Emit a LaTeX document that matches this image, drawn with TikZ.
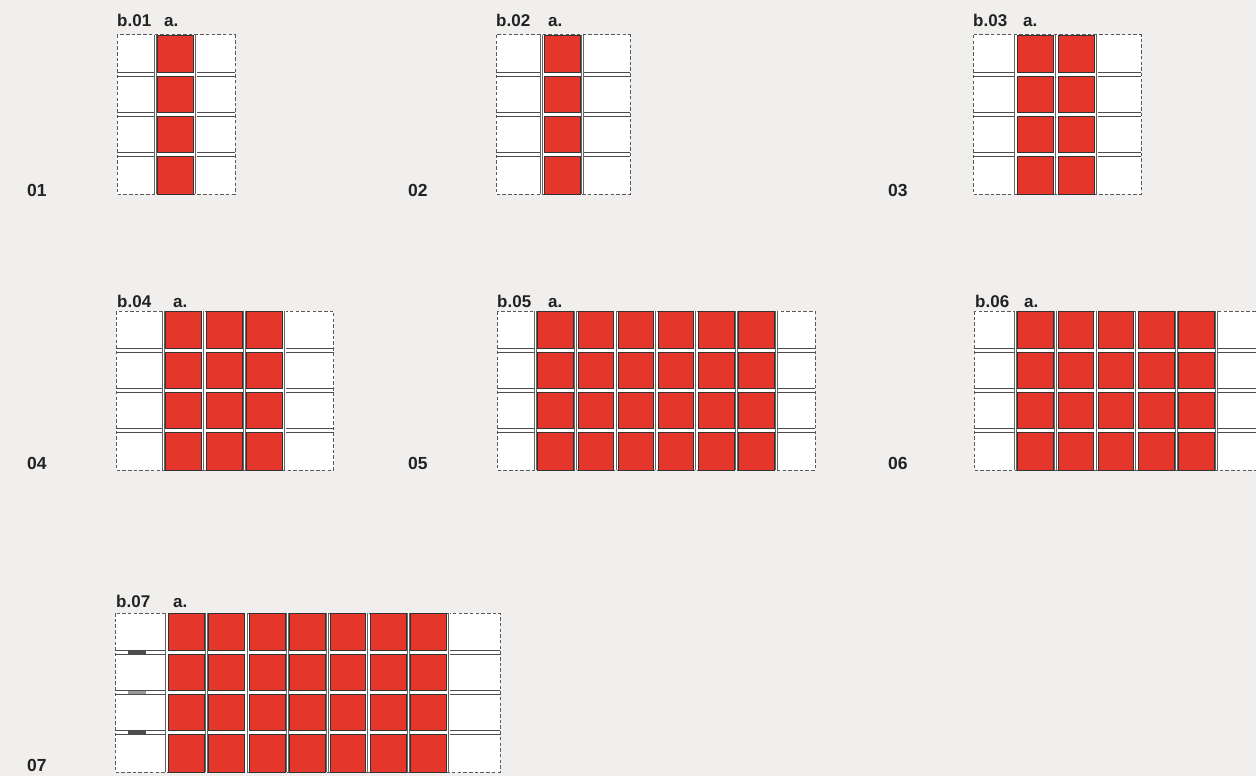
\documentclass[tikz,border=0pt]{standalone}
\usepackage{fontspec}
\setmainfont{Liberation Sans}
\usetikzlibrary{positioning}
\definecolor{bgpaper}{HTML}{F0EFED}
\definecolor{cellred}{HTML}{E5362C}
\definecolor{inkdark}{HTML}{222222}

\begin{document}
\begin{tikzpicture}[x=1pt, y=-1pt,
  tag/.style={font=\bfseries\fontsize{17}{17}\selectfont, text=inkdark, inner sep=0pt, anchor=base west},
  num/.style={font=\bfseries\fontsize{17.5}{17.5}\selectfont, text=inkdark, inner sep=0pt, anchor=base west},
  plotbox/.style={draw=black!65, dash pattern=on 3.5pt off 2.2pt, line width=1pt, fill=white},
  rowline/.style={draw=black!70, line width=0.9pt},
  wall/.style={draw=black!60, line width=0.8pt, double=white, double distance=0.9pt},
  cell/.style={fill=cellred, draw=black!80, line width=0.8pt}]
  \useasboundingbox (0,0) rectangle (1256,776);
  \fill[bgpaper] (0,0) rectangle (1256,776);

  % Bays: left edge / first wall / columns / pitch / right edge / top
  \foreach \L/\W/\n/\p/\R/\T in {117/155.5/1/40.5/235/35, 496/541.7/1/40.9/630/35,
      973/1015/2/41/1141/35, 116/163.5/3/40.5/333.5/311, 497/535.5/6/40.17/815/311,
      974/1015.5/5/40.2/1275/311, 115/166/7/40.43/500/613} {
    \pgfmathsetmacro\B{\T+159}
    \pgfmathsetmacro\E{\W+\n*\p}
    \draw[plotbox] (\L,\T) rectangle (\R,\B);
    % red cells
    \foreach \c in {1,...,\n}
      \foreach \r in {0,...,3}
        \filldraw[cell] ({\W+(\c-1)*\p+2.3},{\T+\r*39.75+(\r>0)*1.9})
          rectangle ({\W+\c*\p-2.3},{\T+(\r+1)*39.75-(\r<3)*1.9});
    % row lines in the side bays
    \foreach \r in {1,2,3} {
      \pgfmathsetmacro\y{\T+\r*39.75}
      \draw[rowline] (\L,{\y-1.9}) -- (\W,{\y-1.9}) (\L,{\y+1.9}) -- (\W,{\y+1.9})
        (\E,{\y-1.9}) -- (\R,{\y-1.9}) (\E,{\y+1.9}) -- (\R,{\y+1.9});
    }
    % walls
    \foreach \k in {0,...,\n}
      \draw[wall] ({\W+\k*\p},\T) -- ({\W+\k*\p},\B);
  }

  % short marks, bay 07
  \draw[black!70, line width=2.6pt] (128,652.75) -- (146,652.75) (128,732.25) -- (146,732.25);
  \draw[black!40, line width=2.6pt] (128,692.5) -- (146,692.5);

  % Labels, top row
  \node[tag] (b01) at (117,27) {b.01};
  \node[tag] (a01) at (164,27) {a.};
  \node[num] (n01) at (27,196) {01};
  \node[tag] (b02) at (496,27) {b.02};
  \node[tag] (a02) at (548,27) {a.};
  \node[num] (n02) at (408,196) {02};
  \node[tag] (b03) at (973,27) {b.03};
  \node[tag] (a03) at (1023,27) {a.};
  \node[num] (n03) at (888,196) {03};

  % Labels, middle row
  \node[tag] (b04) at (117,307) {b.04};
  \node[tag] (a04) at (173,307) {a.};
  \node[num] (n04) at (27,469) {04};
  \node[tag] (b05) at (497,307) {b.05};
  \node[tag] (a05) at (548,307) {a.};
  \node[num] (n05) at (408,469) {05};
  \node[tag] (b06) at (975,307) {b.06};
  \node[tag] (a06) at (1024,307) {a.};
  \node[num] (n06) at (888,469) {06};

  % Labels, bottom row
  \node[tag] (b07) at (116,607) {b.07};
  \node[tag] (a07) at (173,607) {a.};
  \node[num] (n07) at (27,771) {07};
\end{tikzpicture}
\end{document}
